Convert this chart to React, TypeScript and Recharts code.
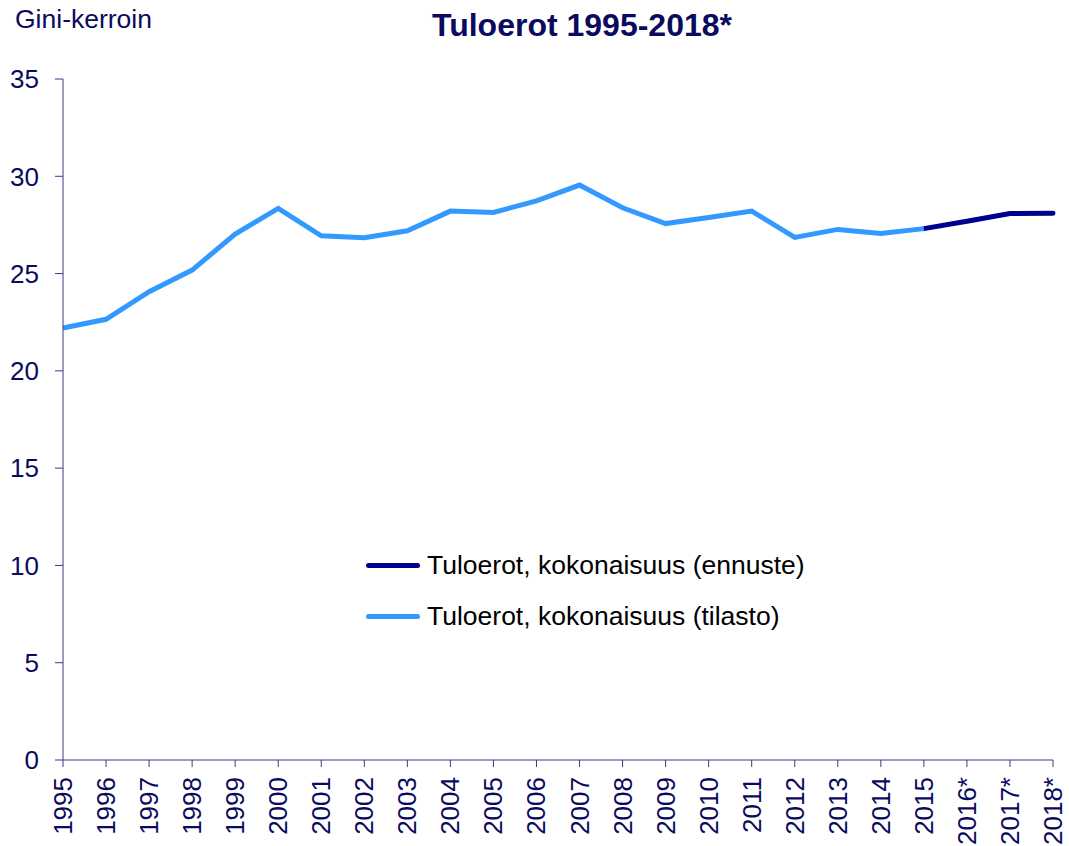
import React from "react";
import { LineChart, Line, XAxis, YAxis, Legend } from "recharts";

// vuodet ja Gini-kertoimet kuvasta luettuna
const years = [
  "1995", "1996", "1997", "1998", "1999", "2000", "2001", "2002", "2003", "2004", "2005", "2006",
  "2007", "2008", "2009", "2010", "2011", "2012", "2013", "2014", "2015", "2016*", "2017*", "2018*",
];
const tilasto = [
  22.2, 22.65, 24.07, 25.18, 27.03, 28.35, 26.94, 26.84, 27.2, 28.21, 28.14, 28.74,
  29.55, 28.38, 27.57, 27.88, 28.21, 26.86, 27.27, 27.06, 27.31, null, null, null,
];
const ennuste = [
  null, null, null, null, null, null, null, null, null, null, null, null,
  null, null, null, null, null, null, null, null, 27.31, 27.69, 28.09, 28.1,
];
const yTicks = [0, 5, 10, 15, 20, 25, 30, 35];

const NAVY = "#0a0a5e";
const AXIS = "#3a3a85";
const FONT = "'Liberation Sans', Arial, sans-serif";

const series = [
  { key: "ennuste", name: "Tuloerot, kokonaisuus (ennuste)", color: "#00008f" },
  { key: "tilasto", name: "Tuloerot, kokonaisuus (tilasto)", color: "#3399ff" },
];

const data = years.map((y, i) => ({ year: y, tilasto: tilasto[i], ennuste: ennuste[i] }));

const XTick = (props: any) => {
  const { x, y, payload } = props;
  return (
    <text
      transform={`translate(${x}, ${y + 10}) rotate(-90)`}
      textAnchor="end"
      dominantBaseline="central"
      fill={NAVY}
      fontSize={26}
      fontFamily={FONT}
    >
      {payload.value}
    </text>
  );
};

const LegendBox = () => (
  <div style={{ fontFamily: FONT, fontSize: 26.5, color: "#000" }}>
    {series.map((s) => (
      <div key={s.key} style={{ display: "flex", alignItems: "center", height: 51 }}>
        <div style={{ width: 54, height: 5, background: s.color, borderRadius: 3, marginRight: 7 }} />
        <span>{s.name}</span>
      </div>
    ))}
  </div>
);

export default function App() {
  return (
    <div style={{ position: "absolute", left: 0, top: 0, width: 1069, height: 846, background: "#fff" }}>
      <div
        style={{
          position: "absolute", left: 15, top: 4, fontFamily: FONT, fontSize: 26.5, color: NAVY,
        }}
      >
        Gini-kerroin
      </div>
      <div
        style={{
          position: "absolute", left: 0, width: 1164, top: 7, textAlign: "center",
          fontFamily: FONT, fontSize: 32, fontWeight: "bold", color: NAVY,
        }}
      >
        Tuloerot 1995-2018*
      </div>
      <LineChart width={1069} height={846} data={data} margin={{ top: 79, right: 16, bottom: 0, left: 0 }}>
        <XAxis
          dataKey="year"
          height={86}
          interval={0}
          stroke={AXIS}
          tickSize={7}
          tickMargin={0}
          tick={(p: any) => <XTick {...p} />}
        />
        <YAxis
          width={63}
          domain={[0, 35]}
          ticks={yTicks}
          interval={0}
          stroke={AXIS}
          tickSize={8}
          tickMargin={16}
          tick={{ fill: NAVY, fontSize: 26, fontFamily: FONT }}
        />
        <Legend
          layout="vertical"
          align="center"
          verticalAlign="middle"
          wrapperStyle={{ left: 366, top: 540, width: 470 }}
          content={() => <LegendBox />}
        />
        <Line
          dataKey="ennuste"
          name={series[0].name}
          stroke={series[0].color}
          strokeWidth={5}
          dot={false}
          strokeLinecap="round"
          isAnimationActive={false}
        />
        <Line
          dataKey="tilasto"
          name={series[1].name}
          stroke={series[1].color}
          strokeWidth={5}
          dot={false}
          isAnimationActive={false}
        />
      </LineChart>
    </div>
  );
}
